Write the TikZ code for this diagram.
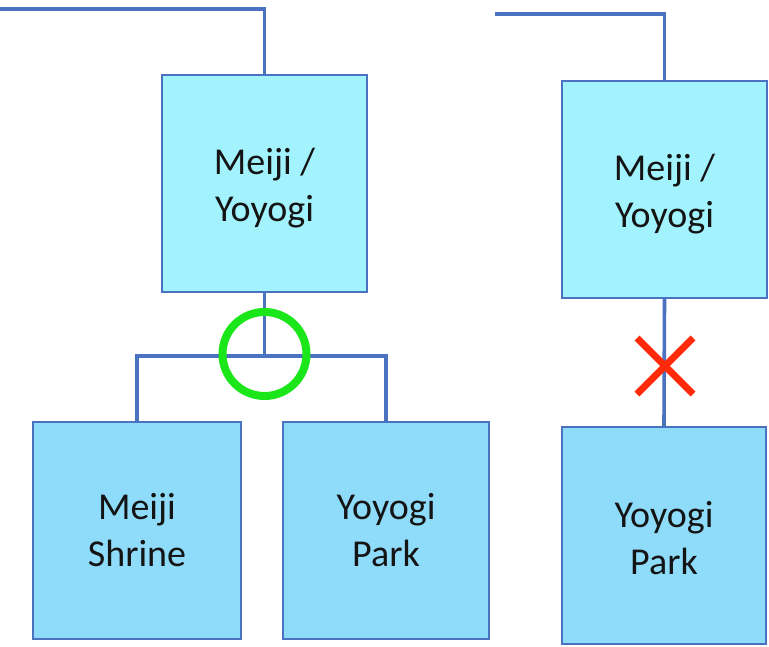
\documentclass[tikz,border=0pt]{standalone}
\usepackage{fontspec}
\setmainfont{Carlito}
\definecolor{edgeblue}{HTML}{4A72C0}
\definecolor{upperfill}{HTML}{A2F3FE}
\definecolor{lowerfill}{HTML}{8FDCFA}
\definecolor{okgreen}{HTML}{1AE61A}
\definecolor{nored}{HTML}{FF2A0A}
\begin{document}
\begin{tikzpicture}[x=1pt,y=-1pt,
  caption/.style={align=center, font=\fontsize{38}{47}\selectfont, text=black!92},
  place/.style={draw=edgeblue, line width=1.8pt, minimum width=205pt,
    minimum height=217pt, inner sep=0pt, caption},
  upper/.style={place, fill=upperfill},
  lower/.style={place, fill=lowerfill},
  link/.style={draw=edgeblue, line width=3.6pt}]
\useasboundingbox (0,0) rectangle (769,646);

% left tree: area node with its two parts
\node[upper, label={[caption, yshift=-5pt]center:{Meiji /\\Yoyogi}}] (area) at (264.5,183.5) {};
\node[lower, minimum width=208pt] (shrine) at (137,530.5) {Meiji\\Shrine};
\node[lower, minimum width=206pt] (park) at (386,530.5) {Yoyogi\\Park};
\coordinate (feedL) at (0,9);
\coordinate (split) at (264.5,356);

\draw[link] (feedL) -| (area.north);
\draw[link] (area.south) -- (split);
\draw[link] (split) -| (shrine.north);
\draw[link] (split) -| (park.north);

% valid split marker
\node[draw=okgreen, line width=8pt, circle, minimum size=84pt, inner sep=0pt] (ok) at (264.5,354) {};

% right tree: area node with a single child
\node[upper, label={[caption, yshift=-5pt]center:{Meiji /\\Yoyogi}}] (areaR) at (664.5,189.5) {};
\node[lower, minimum width=204pt, label={[caption, yshift=-3pt]center:{Yoyogi\\Park}}] (parkR) at (664,535.5) {};
\coordinate (feedR) at (495,14);

\draw[link] (feedR) -| (areaR.north);
\draw[link] (areaR.south) -- (parkR.north);

% invalid link marker
\node (bad) at (665,366) {};
\draw[nored, line width=7pt] ([shift={(-28,-28)}]bad.center) -- ([shift={(28,28)}]bad.center)
  ([shift={(-28,28)}]bad.center) -- ([shift={(28,-28)}]bad.center);
\end{tikzpicture}
\end{document}
